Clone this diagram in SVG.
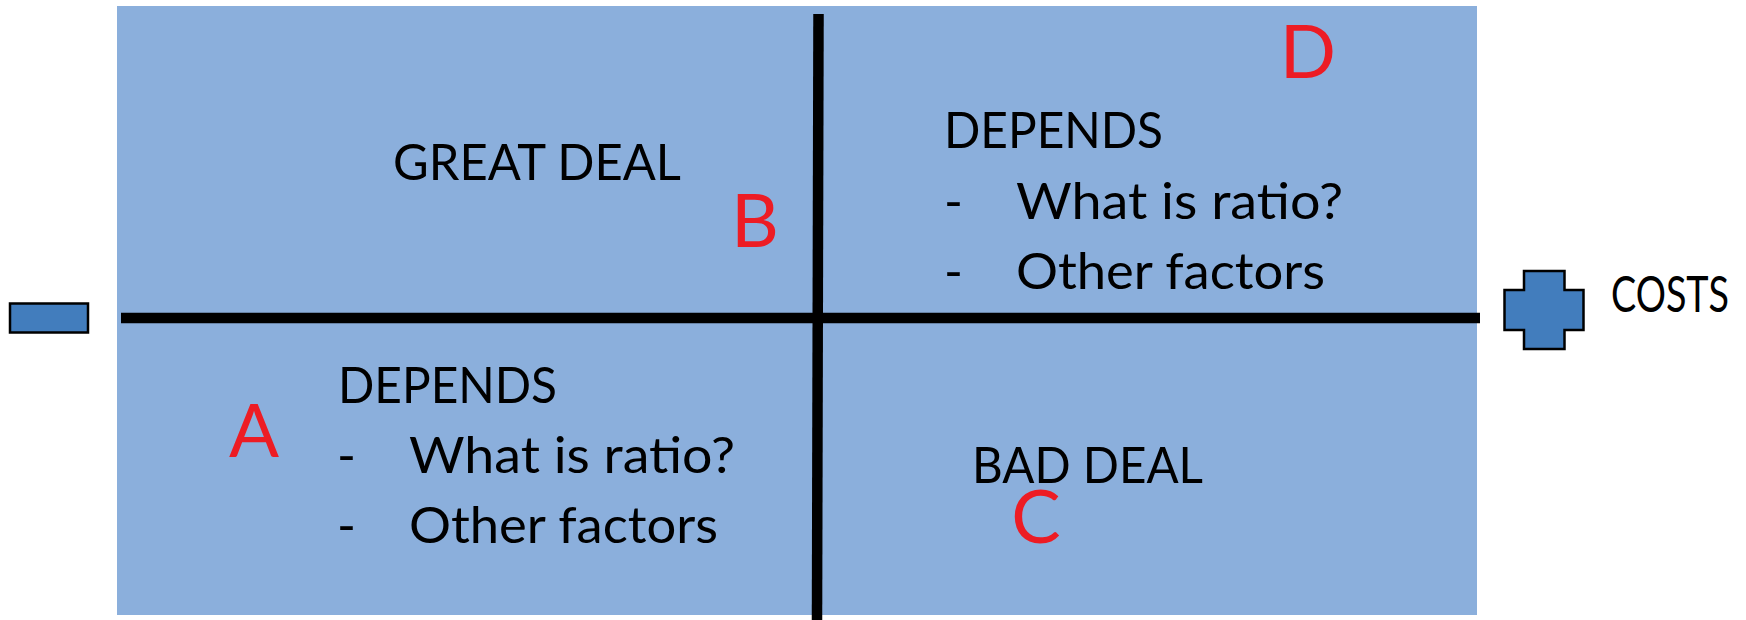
<svg xmlns="http://www.w3.org/2000/svg" width="1746" height="620" viewBox="0 0 1746 620">
<style>
.t{font-family:Lato,"Open Sans","Liberation Sans",sans-serif;fill:#000;font-size:51px}
.r{font-family:Lato,"Open Sans","Liberation Sans",sans-serif;fill:#ED1C24;font-size:74px;text-anchor:middle}
.s{fill:#427DBD;stroke:#000;stroke-width:2.5}
.ax{stroke:#000;stroke-width:10.5;fill:none}
</style>
<rect id="matrix" x="117" y="6" width="1360" height="609" fill="#8BAFDC"/>
<g id="connectors">
<line class="ax" x1="121" y1="318" x2="1480" y2="318"/>
<line class="ax" x1="818.5" y1="14" x2="817" y2="620"/>
</g>
<g id="minus"><rect class="s" x="10" y="303.5" width="78" height="29"/></g>
<g id="plus"><path class="s" d="M1524 271H1564.5V290H1583.5V330H1564.5V349H1524V330H1504.5V290H1524Z"/><text class="t" x="1611" y="312" font-size="39" textLength="118" lengthAdjust="spacingAndGlyphs">COSTS</text></g>
<g id="quadB">
<text class="t" x="393" y="180" textLength="288" lengthAdjust="spacingAndGlyphs">GREAT DEAL</text>
<text class="r" x="755" y="247">B</text>
</g>
<g id="quadD">
<text class="r" x="1308" y="78">D</text>
<text class="t" x="944" y="148" textLength="219" lengthAdjust="spacingAndGlyphs">DEPENDS</text>
<text class="t" x="944" y="219">-</text>
<text class="t" x="1016" y="219" textLength="327" lengthAdjust="spacingAndGlyphs">What is ratio?</text>
<text class="t" x="944" y="289">-</text>
<text class="t" x="1016" y="289" textLength="309" lengthAdjust="spacingAndGlyphs">Other factors</text>
</g>
<g id="quadA">
<text class="r" x="254" y="457">A</text>
<text class="t" x="338" y="403" textLength="219" lengthAdjust="spacingAndGlyphs">DEPENDS</text>
<text class="t" x="337" y="473">-</text>
<text class="t" x="409" y="473" textLength="326" lengthAdjust="spacingAndGlyphs">What is ratio?</text>
<text class="t" x="337" y="543">-</text>
<text class="t" x="409" y="543" textLength="309" lengthAdjust="spacingAndGlyphs">Other factors</text>
</g>
<g id="quadC">
<text class="t" x="972" y="483" textLength="231" lengthAdjust="spacingAndGlyphs">BAD DEAL</text>
<text class="r" x="1036" y="543">C</text>
</g>
</svg>
